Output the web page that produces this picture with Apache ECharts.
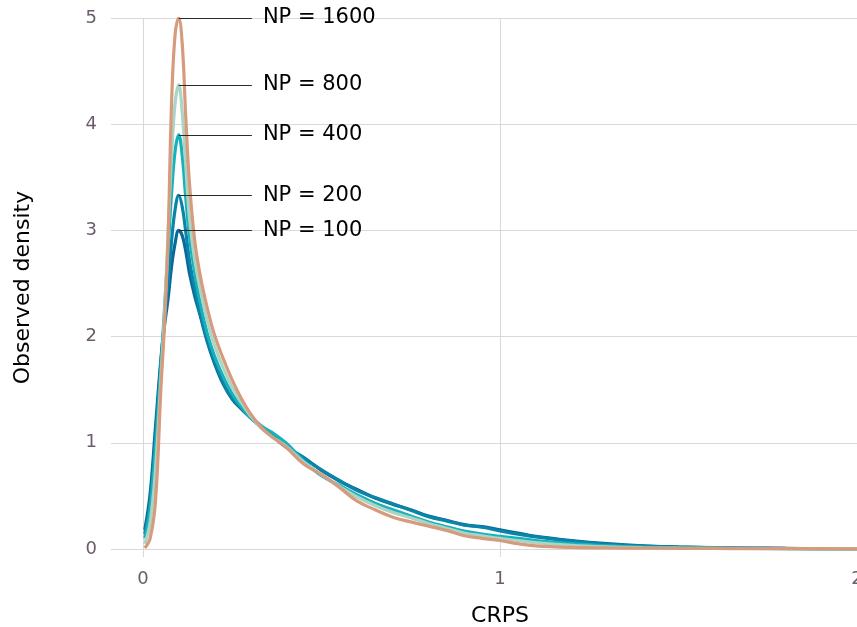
<!DOCTYPE html>
<html>
<head>
<meta charset="utf-8">
<title>CRPS density</title>
<script src="https://cdn.jsdelivr.net/npm/echarts@6.0.0/dist/echarts.min.js"></script>
<style>
html, body { margin: 0; padding: 0; background: #fff; }
#container { width: 857px; height: 627px; }
</style>
</head>
<body>
<div id="container"></div>
<script>
const crps = [0.005, 0.02, 0.035, 0.05, 0.06, 0.07, 0.08, 0.09, 0.1, 0.11, 0.12, 0.13, 0.145, 0.16, 0.18, 0.2,
    0.225, 0.25, 0.275, 0.3, 0.33, 0.36, 0.4, 0.45, 0.5, 0.55, 0.6, 0.65, 0.7, 0.75, 0.8, 0.85, 0.9, 0.95,
    1.0, 1.05, 1.1, 1.2, 1.3, 1.4, 1.5, 1.6, 1.7, 1.8, 1.9, 2.0];

const np100 = [0.18, 0.52, 1.15, 1.78, 2.1, 2.35, 2.66, 2.88, 3.0, 2.95, 2.8, 2.6, 2.38, 2.2, 1.95, 1.75,
    1.55, 1.41, 1.32, 1.24, 1.15, 1.07, 0.96, 0.86, 0.74, 0.64, 0.56, 0.48, 0.42, 0.37, 0.31, 0.27, 0.23, 0.21,
    0.18, 0.15, 0.12, 0.08, 0.05, 0.03, 0.02, 0.013, 0.009, 0.006, 0.004, 0.003];

const np200 = [0.14, 0.45, 1.05, 1.75, 2.15, 2.5, 2.9, 3.2, 3.33, 3.22, 2.98, 2.72, 2.45, 2.22, 1.97, 1.77,
    1.57, 1.42, 1.33, 1.25, 1.16, 1.08, 0.97, 0.86, 0.745, 0.645, 0.55, 0.485, 0.425, 0.365, 0.305, 0.265, 0.225, 0.205,
    0.17, 0.14, 0.115, 0.075, 0.045, 0.028, 0.018, 0.012, 0.008, 0.005, 0.004, 0.003];

const np400 = [0.1, 0.38, 0.95, 1.7, 2.25, 2.8, 3.35, 3.75, 3.9, 3.7, 3.3, 2.95, 2.6, 2.32, 2.03, 1.82,
    1.62, 1.46, 1.34, 1.24, 1.16, 1.1, 1.0, 0.83, 0.69, 0.6, 0.51, 0.43, 0.37, 0.31, 0.255, 0.21, 0.168, 0.14,
    0.12, 0.1, 0.08, 0.05, 0.03, 0.018, 0.012, 0.008, 0.006, 0.004, 0.003, 0.002];

const np800 = [0.05, 0.25, 0.75, 1.6, 2.2, 2.95, 3.7, 4.2, 4.37, 4.1, 3.6, 3.12, 2.72, 2.45, 2.15, 1.92,
    1.7, 1.52, 1.38, 1.26, 1.14, 1.06, 0.97, 0.82, 0.7, 0.59, 0.49, 0.41, 0.345, 0.295, 0.24, 0.195, 0.15, 0.125,
    0.1, 0.08, 0.06, 0.035, 0.02, 0.012, 0.008, 0.006, 0.005, 0.004, 0.003, 0.002];

const np1600 = [0.01, 0.1, 0.45, 1.5, 2.1, 2.9, 4.2, 4.85, 5.0, 4.75, 4.05, 3.45, 2.9, 2.58, 2.27, 2.02,
    1.79, 1.59, 1.42, 1.28, 1.15, 1.06, 0.96, 0.8, 0.7, 0.58, 0.45, 0.37, 0.3, 0.255, 0.215, 0.175, 0.125, 0.1,
    0.08, 0.05, 0.03, 0.015, 0.01, 0.008, 0.006, 0.005, 0.004, 0.003, 0.003, 0.002];

const seriesNames = ['NP = 100', 'NP = 200', 'NP = 400', 'NP = 800', 'NP = 1600'];
const seriesValues = [np100, np200, np400, np800, np1600];
const palette = ['#08699a', '#0a84a8', '#17b1ba', '#a9d4c6', '#d69b7c'];

window.onload = function () {
    const dom = document.getElementById("container");
    const myChart = echarts.init(dom);
    const labelEndX = 0.305;

    const series = seriesValues.map(function (values, s) {
        let peak = 0;
        values.forEach(function (v, i) { if (v > values[peak]) peak = i; });
        return {
            name: seriesNames[s],
            type: 'line',
            xAxisIndex: 0,
            yAxisIndex: 0,
            data: crps.map(function (x, i) { return [x, values[i]]; }),
            smooth: 0.4,
            showSymbol: false,
            lineStyle: { color: palette[s], width: 3.2 },
            itemStyle: { color: palette[s] },
            markLine: {
                silent: true,
                symbol: 'none',
                animation: false,
                lineStyle: { color: '#2b2b2b', width: 1, type: 'solid' },
                label: {
                    show: true,
                    position: 'end',
                    formatter: seriesNames[s],
                    color: '#000',
                    fontSize: 21,
                    fontFamily: 'DejaVu Sans',
                    distance: 11
                },
                data: [[{ coord: [crps[peak], values[peak]] }, { coord: [labelEndX, values[peak]] }]]
            }
        };
    });

    const option = {
        animation: false,
        backgroundColor: '#fff',
        textStyle: { fontFamily: 'DejaVu Sans' },
        grid: [
            { left: 143, right: 0, top: 18, bottom: 70, outerBoundsMode: 'none' },
            { left: 111, right: 0, top: 18, bottom: 78, outerBoundsMode: 'none' }
        ],
        xAxis: [{
            gridIndex: 0,
            type: 'value',
            min: 0,
            max: 2,
            interval: 1,
            axisLine: { show: false },
            axisTick: { show: false },
            axisLabel: { color: '#6b5b6b', fontSize: 18, margin: 13 },
            splitLine: { show: true, lineStyle: { color: '#d9d9d9', width: 1 } },
            name: 'CRPS',
            nameLocation: 'middle',
            nameGap: 48,
            nameTextStyle: { color: '#000', fontSize: 22 }
        }, {
            gridIndex: 1,
            type: 'value',
            min: 0,
            max: 1,
            show: false
        }],
        yAxis: [{
            gridIndex: 0,
            type: 'value',
            min: -0.0753,
            max: 5,
            axisLine: { show: false },
            axisTick: { show: false },
            axisLabel: { show: false },
            splitLine: { show: false },
            name: 'Observed density',
            nameLocation: 'middle',
            nameRotate: 90,
            nameGap: 109,
            nameTextStyle: { color: '#000', fontSize: 22 }
        }, {
            gridIndex: 1,
            type: 'value',
            min: 0,
            max: 5,
            interval: 1,
            axisLine: { show: false },
            axisTick: { show: false },
            axisLabel: { color: '#6b5b6b', fontSize: 18, margin: 14 },
            splitLine: { show: true, lineStyle: { color: '#d9d9d9', width: 1 } }
        }],
        series: series
    };

    myChart.setOption(option);
};
</script>
</body>
</html>
